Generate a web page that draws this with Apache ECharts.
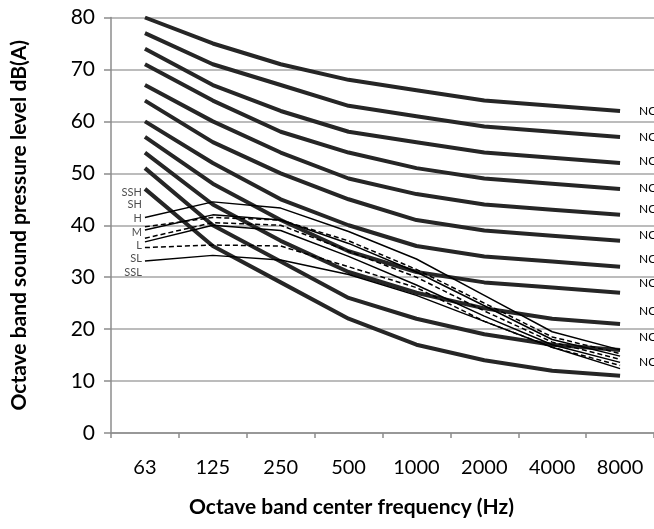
<!DOCTYPE html>
<html>
<head>
<meta charset="utf-8">
<script src="https://cdn.jsdelivr.net/npm/echarts@6/dist/echarts.min.js"></script>
<style>
html,body{margin:0;padding:0;background:#fff;}
#chart{width:654px;height:529px;}
</style>
</head>
<body>
<div id="chart"></div>
<script>
var freqs = ['63','125','250','500','1000','2000','4000','8000'];

// NC curves (thick lines)
var ncNames = ['NC-65','NC-60','NC-55','NC-50','NC-45','NC-40','NC-35','NC-30','NC-25','NC-20','NC-15'];
var ncValues = [
    [80,75,71,68,66,64,63,62],
    [77,71,67,63,61,59,58,57],
    [74,67,62,58,56,54,53,52],
    [71,64,58,54,51,49,48,47],
    [67,60,54,49,46,44,43,42],
    [64,56,50,45,41,39,38,37],
    [60,52,45,40,36,34,33,32],
    [57,48,41,35,31,29,28,27],
    [54,44,37,31,27,24,22,21],
    [51,40,33,26,22,19,17,16],
    [47,36,29,22,17,14,12,11]
];

// measured spectra (thin lines)
var specNames = ['SSH','SH','H','M','L','SL','SSL'];
var specDashed = [false,true,false,true,false,true,false];
var specValues = [
    [41.5,44.5,43.3,38.8,33.5,26.5,19.5,16.0],
    [39.7,41.5,41.0,37.0,31.5,25.0,18.5,15.3],
    [39.1,42.0,41.0,36.5,31.0,24.5,18.0,14.8],
    [37.5,40.5,40.0,35.0,30.0,23.5,17.5,14.2],
    [36.8,40.0,39.0,34.0,28.5,22.5,17.0,13.6],
    [35.7,36.2,36.0,32.0,28.0,21.5,16.5,13.0],
    [33.1,34.2,33.3,30.5,26.5,21.5,16.5,12.4]
];
// where the spectrum names sit (dB) beside the 63 Hz band
var specLabelY = [46.3,44.0,41.3,38.6,36.1,33.6,30.9];

var yTicks = [0,10,20,30,40,50,60,70,80];

var ncOffsetY = [0,0,-2,-1,-6,-6,-8,-10,-13,-13,-14];

var series = [];
ncValues.forEach(function (vals, i) {
    series.push({
        name: ncNames[i],
        type: 'line',
        data: vals,
        symbol: 'none',
        smooth: false,
        lineStyle: {color: '#262626', width: 4},
        endLabel: {
            show: true,
            formatter: ncNames[i],
            color: '#000',
            fontSize: 12,
            fontFamily: 'Lato',
            distance: 5,
            offset: [14, ncOffsetY[i]]
        },
        z: 2
    });
});
specValues.forEach(function (vals, i) {
    series.push({
        name: specNames[i],
        type: 'line',
        data: vals,
        symbol: 'none',
        lineStyle: {
            color: '#000',
            width: 1.5,
            type: specDashed[i] ? [5, 3] : 'solid'
        },
        z: 3
    });
});
series.push({
    type: 'scatter',
    symbolSize: 0,
    silent: true,
    data: specNames.map(function (n, i) { return {name: n, value: ['63', specLabelY[i]]}; }),
    label: {
        show: true,
        position: 'left',
        distance: 3,
        formatter: '{b}',
        color: '#222',
        fontSize: 11,
        fontFamily: 'Lato'
    }
});

var option = {
    animation: false,
    backgroundColor: '#fff',
    grid: {left: 111, right: -9, top: 17.5, bottom: 96},
    xAxis: {
        type: 'category',
        data: freqs,
        boundaryGap: true,
        name: 'Octave band center frequency (Hz)',
        nameLocation: 'middle',
        nameGap: 64,
        nameTextStyle: {fontSize: 21, fontWeight: 'bold', color: '#000', fontFamily: 'Lato', padding: [0, 62, 0, 0]},
        axisLine: {lineStyle: {color: '#8c8c8c', width: 1.5}},
        axisTick: {show: true, length: 5, lineStyle: {color: '#8c8c8c', width: 1.5}},
        axisLabel: {fontSize: 20, color: '#000', fontFamily: 'Lato', margin: 25}
    },
    yAxis: {
        type: 'value',
        min: 0,
        max: 80,
        interval: 10,
        name: 'Octave band sound pressure level dB(A)',
        nameLocation: 'middle',
        nameGap: 81,
        nameTextStyle: {fontSize: 21, fontWeight: 'bold', color: '#000', fontFamily: 'Lato'},
        axisLine: {show: true, lineStyle: {color: '#8c8c8c', width: 1.5}},
        axisTick: {show: true, length: 7, lineStyle: {color: '#8c8c8c', width: 1.5}},
        axisLabel: {
            fontSize: 21, color: '#000', fontFamily: 'Lato', margin: 16,
            formatter: function (v) { return yTicks.indexOf(v) >= 0 ? String(v) : ''; }
        },
        splitLine: {show: true, lineStyle: {color: '#a6a6a6', width: 1.5}}
    },
    series: series
};

var chart = echarts.init(document.getElementById('chart'));
chart.setOption(option);
</script>
</body>
</html>
